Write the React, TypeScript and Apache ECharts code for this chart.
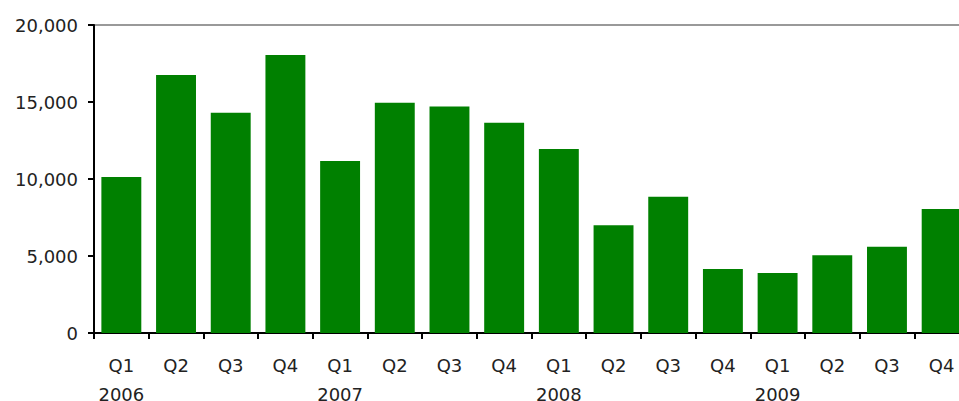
import React, { useEffect, useRef } from "react";
import * as echarts from "echarts";

const quarters = ["Q1", "Q2", "Q3", "Q4", "Q1", "Q2", "Q3", "Q4", "Q1", "Q2", "Q3", "Q4", "Q1", "Q2", "Q3", "Q4"];
const years = ["2006", "", "", "", "2007", "", "", "", "2008", "", "", "", "2009", "", "", ""];
const values = [10130, 16750, 14300, 18050, 11170, 14950, 14700, 13650, 11950, 7000, 8850, 4150, 3900, 5050, 5600, 8050];
const yTicks = [0, 5000, 10000, 15000, 20000];

const categories = quarters.map((q, i) => (years[i] ? `${q}\n${years[i]}` : q));

export default function App() {
  const ref = useRef<HTMLDivElement>(null);
  useEffect(() => {
    if (!ref.current) return;
    const chart = echarts.init(ref.current, undefined, { renderer: "svg" });
    const font = "DejaVu Sans";
    chart.setOption({
      animation: false,
      grid: { left: 94, right: -10, top: 25, bottom: 68, containLabel: false, outerBoundsMode: "none" },
      xAxis: {
        type: "category",
        data: categories,
        axisLine: { show: true, lineStyle: { color: "#000", width: 2 } },
        axisTick: { show: true, alignWithLabel: false, length: 6, lineStyle: { color: "#000", width: 2 } },
        axisLabel: {
          interval: 0,
          margin: 18,
          color: "#222",
          fontFamily: font,
          fontSize: 18,
          lineHeight: 29,
        },
      },
      yAxis: {
        type: "value",
        min: yTicks[0],
        max: yTicks[yTicks.length - 1],
        interval: 5000,
        axisLine: { show: true, lineStyle: { color: "#000", width: 2 } },
        axisTick: { show: true, length: 6, lineStyle: { color: "#000", width: 2 } },
        splitLine: {
          show: true,
          lineStyle: { color: ["transparent", "transparent", "transparent", "transparent", "#999"], width: 2 },
        },
        axisLabel: {
          margin: 16,
          color: "#222",
          fontFamily: font,
          fontSize: 18,
          formatter: (v: number) => v.toLocaleString("en-US"),
        },
      },
      series: [
        {
          type: "bar",
          data: values,
          barCategoryGap: "27%",
          itemStyle: { color: "#008000" },
        },
      ],
    });
    return () => chart.dispose();
  }, []);
  return (
    <div
      ref={ref}
      style={{ position: "fixed", left: 0, top: 0, width: 959, height: 401, background: "#fff" }}
    />
  );
}
